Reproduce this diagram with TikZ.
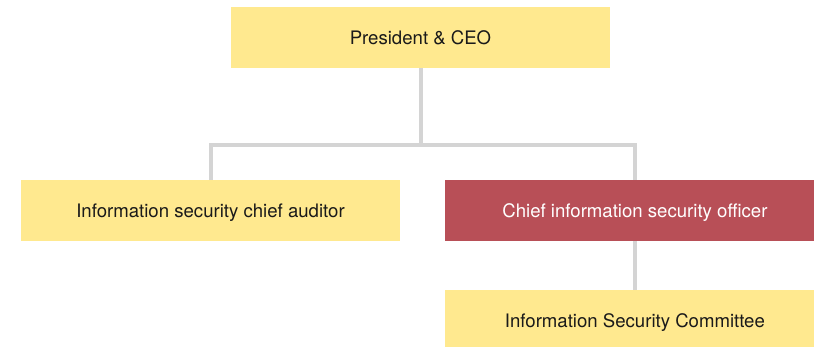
\documentclass[tikz,border=0pt]{standalone}
\usepackage{fontspec}
\setmainfont{TeX Gyre Heros}
\usepackage{tikz}
\usetikzlibrary{positioning}
\definecolor{boxyellow}{HTML}{FFE98F}
\definecolor{boxred}{HTML}{B84F57}
\definecolor{linkgray}{HTML}{D4D4D4}
\definecolor{textdark}{HTML}{1A1A1A}

\begin{document}
\begin{tikzpicture}[x=1pt, y=1pt, node distance=45pt, every node/.style={font=\fontsize{18.6}{21}\selectfont}, box/.style={fill=boxyellow, text=textdark, inner sep=0pt, text depth=0pt, minimum height=61pt, minimum width=379pt, align=center}, hot/.style={box, fill=boxred, text=white}, link/.style={draw=linkgray, line width=4pt, line join=miter}]
\clip (0,0) rectangle (814,347);
\fill[white] (0,0) rectangle (814,347);
\node[box] (pres) at (420.5,309.5) {President \& CEO};
\node[box] (aud) at (210.5,136.5) {Information security chief auditor};
\node[hot, right=45pt of aud] (ciso) {Chief information security officer};
\node[box, below=49pt of ciso] (isc) {Information Security Committee};
\draw[link] (pres.south) -- ++(0,-76.5) coordinate (bar); \draw[link] (bar) -| (aud.north); \draw[link] (bar) -| (ciso.north); \draw[link] (ciso.south)--(isc.north);
\end{tikzpicture}
\end{document}
